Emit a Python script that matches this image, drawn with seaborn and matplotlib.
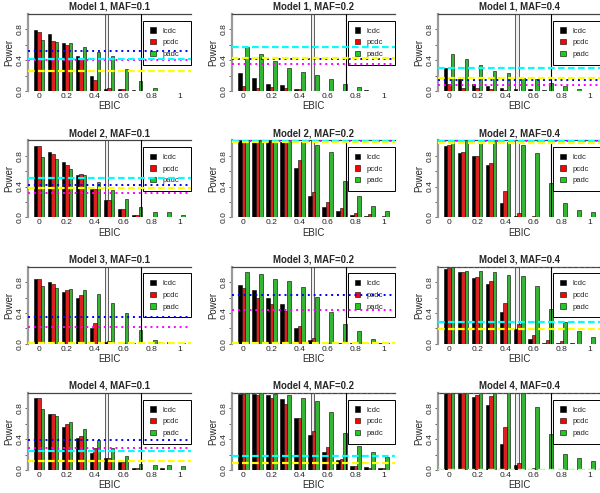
import numpy as np
import pandas as pd
import matplotlib
matplotlib.use("Agg")
import matplotlib.pyplot as plt
import seaborn as sns
from matplotlib.patches import Patch

sns.set_theme(style="white")
plt.rcParams['font.family'] = ['Liberation Sans', 'DejaVu Sans']

# ---- data ----
ebic = ["0", "0.1", "0.2", "0.3", "0.4", "0.5", "0.6", "0.7", "0.8", "0.9", "1"]
methods = ["lcdc", "pcdc", "padc"]
models = [1, 2, 3, 4]
mafs = ["0.1", "0.2", "0.4"]

# Model 1
m1_01_lcdc = [0.79, 0.74, 0.62, 0.45, 0.19, 0.03, 0.02, 0.01, 0.003, 0.002, 0.002]
m1_01_pcdc = [0.76, 0.65, 0.60, 0.42, 0.14, 0.04, 0.02, 0.005, 0.002, 0.002, 0.002]
m1_01_padc = [0.66, 0.64, 0.62, 0.57, 0.51, 0.45, 0.28, 0.13, 0.04, 0.003, 0.003]
m1_02_lcdc = [0.23, 0.165, 0.09, 0.08, 0.03, 0.003, 0.003, 0.003, 0.003, 0.01, 0.003]
m1_02_pcdc = [0.07, 0.045, 0.05, 0.035, 0.02, 0.002, 0.002, 0.002, 0.002, 0.005, 0.002]
m1_02_padc = [0.57, 0.48, 0.39, 0.30, 0.245, 0.21, 0.155, 0.09, 0.056, 0.005, 0.002]
m1_04_lcdc = [0.30, 0.17, 0.087, 0.065, 0.04, 0.03, 0.03, 0.015, 0.003, 0.005, 0.003]
m1_04_pcdc = [0.096, 0.045, 0.035, 0.02, 0.015, 0.005, 0.005, 0.002, 0.001, 0.002, 0.001]
m1_04_padc = [0.48, 0.41, 0.34, 0.265, 0.23, 0.175, 0.16, 0.105, 0.06, 0.02, 0.002]
# Model 2
m2_01_lcdc = [0.93, 0.85, 0.72, 0.55, 0.37, 0.22, 0.107, 0.034, 0.008, 0.005, 0.005]
m2_01_pcdc = [0.93, 0.82, 0.68, 0.56, 0.37, 0.22, 0.11, 0.034, 0.008, 0.008, 0.008]
m2_01_padc = [0.78, 0.76, 0.63, 0.55, 0.46, 0.35, 0.24, 0.13, 0.073, 0.064, 0.034]
m2_02_lcdc = [1.0, 1.0, 1.0, 0.98, 0.635, 0.274, 0.13, 0.083, 0.03, 0.02, 0.003]
m2_02_pcdc = [0.99, 0.99, 0.99, 0.98, 0.75, 0.33, 0.20, 0.12, 0.05, 0.04, 0.013]
m2_02_padc = [0.99, 0.99, 0.99, 1.0, 0.98, 0.94, 0.85, 0.47, 0.28, 0.15, 0.083]
m2_04_lcdc = [0.92, 0.835, 0.795, 0.675, 0.186, 0.017, 0.008, 0.005, 0.002, 0.001, 0.001]
m2_04_pcdc = [0.935, 0.85, 0.80, 0.71, 0.345, 0.05, 0.02, 0.005, 0.001, 0.001, 0.001]
m2_04_padc = [1.0, 1.0, 1.0, 0.995, 0.98, 0.94, 0.835, 0.45, 0.18, 0.10, 0.074]
# Model 3
m3_01_lcdc = [0.84, 0.795, 0.665, 0.595, 0.21, 0.02, 0.008, 0.003, 0.001, 0.001, 0.001]
m3_01_pcdc = [0.84, 0.78, 0.70, 0.635, 0.27, 0.03, 0.004, 0.002, 0.001, 0.001, 0.001]
m3_01_padc = [0.75, 0.72, 0.71, 0.70, 0.65, 0.525, 0.395, 0.18, 0.048, 0.02, 0.005]
m3_02_lcdc = [0.765, 0.70, 0.60, 0.51, 0.21, 0.048, 0.013, 0.005, 0.003, 0.001, 0.005]
m3_02_pcdc = [0.72, 0.60, 0.51, 0.43, 0.23, 0.074, 0.013, 0.003, 0.001, 0.001, 0.001]
m3_02_padc = [0.93, 0.90, 0.84, 0.82, 0.73, 0.61, 0.41, 0.26, 0.165, 0.06, 0.01]
m3_04_lcdc = [0.965, 0.925, 0.855, 0.775, 0.41, 0.19, 0.06, 0.008, 0.003, 0.003, 0.001]
m3_04_pcdc = [0.98, 0.925, 0.87, 0.81, 0.53, 0.25, 0.117, 0.045, 0.03, 0.001, 0.001]
m3_04_padc = [0.99, 0.945, 0.945, 0.925, 0.895, 0.875, 0.745, 0.456, 0.283, 0.16, 0.09]
# Model 4
m4_01_lcdc = [0.93, 0.726, 0.558, 0.42, 0.216, 0.15, 0.10, 0.03, 0.005, 0.02, 0.003]
m4_01_pcdc = [0.94, 0.726, 0.597, 0.445, 0.28, 0.16, 0.104, 0.02, 0.003, 0.005, 0.001]
m4_01_padc = [0.787, 0.705, 0.627, 0.528, 0.39, 0.28, 0.186, 0.078, 0.065, 0.06, 0.05]
m4_02_lcdc = [0.985, 0.985, 0.97, 0.92, 0.68, 0.45, 0.235, 0.128, 0.05, 0.038, 0.03]
m4_02_pcdc = [0.985, 0.97, 0.94, 0.86, 0.68, 0.51, 0.30, 0.137, 0.056, 0.03, 0.03]
m4_02_padc = [1.0, 1.0, 0.985, 0.975, 0.937, 0.894, 0.753, 0.483, 0.312, 0.235, 0.175]
m4_04_lcdc = [1.0, 1.0, 0.945, 0.85, 0.335, 0.065, 0.017, 0.005, 0.001, 0.001, 0.001]
m4_04_pcdc = [1.0, 1.0, 0.975, 0.955, 0.553, 0.09, 0.03, 0.003, 0.001, 0.001, 0.001]
m4_04_padc = [1.0, 1.0, 0.995, 1.0, 1.0, 1.0, 0.82, 0.474, 0.213, 0.157, 0.113]

# reference lines per panel, row-major (model 1 maf 0.1, 0.2, 0.4, model 2 ...)
ref_blue = [0.52, 0.42, 0.139, 0.415, 1.0, 1.0, 0.343, 0.635, 1.0, 0.39, 1.0, 1.0]
ref_magenta = [0.40, 0.357, 0.074, 0.317, 0.995, 0.99, 0.217, 0.443, 0.99, 0.29, 1.0, 1.0]
ref_cyan = [0.42, 0.574, 0.296, 0.51, 1.0, 0.995, 0.0, 0.0, 0.283, 0.25, 0.184, 0.0]
ref_yellow = [0.265, 0.426, 0.174, 0.376, 0.98, 0.965, 0.005, 0.005, 0.19, 0.117, 0.094, 0.005]

panels = [
    [m1_01_lcdc, m1_01_pcdc, m1_01_padc], [m1_02_lcdc, m1_02_pcdc, m1_02_padc], [m1_04_lcdc, m1_04_pcdc, m1_04_padc],
    [m2_01_lcdc, m2_01_pcdc, m2_01_padc], [m2_02_lcdc, m2_02_pcdc, m2_02_padc], [m2_04_lcdc, m2_04_pcdc, m2_04_padc],
    [m3_01_lcdc, m3_01_pcdc, m3_01_padc], [m3_02_lcdc, m3_02_pcdc, m3_02_padc], [m3_04_lcdc, m3_04_pcdc, m3_04_padc],
    [m4_01_lcdc, m4_01_pcdc, m4_01_padc], [m4_02_lcdc, m4_02_pcdc, m4_02_padc], [m4_04_lcdc, m4_04_pcdc, m4_04_padc],
]

bar_colors = ["black", "#FF0000", "#1ECC1E"]

# ---- layout (pixels) ----
W, H = 600, 493
col_left = [27.7, 232.0, 437.8]
row_top = [14.0, 140.3, 266.7, 393.0]
ax_w, ax_h = 162.9, 77.0
# vertical marker lines per column (category coordinates)
vlines = [(4.67, 4.95, 7.26), (4.82, 5.07, 7.29), (4.69, 4.97, 7.25)]

fig = plt.figure(figsize=(W / 100, H / 100), dpi=100)

for k, series in enumerate(panels):
    r, c = divmod(k, 3)
    ax = fig.add_axes([col_left[c] / W, 1 - (row_top[r] + ax_h) / H, ax_w / W, ax_h / H])

    df = pd.DataFrame({
        "EBIC": ebic * 3,
        "Power": series[0] + series[1] + series[2],
        "method": np.repeat(methods, len(ebic)),
    })
    sns.barplot(data=df, x="EBIC", y="Power", hue="method", order=ebic,
                hue_order=methods, palette=bar_colors, width=0.75,
                edgecolor="black", linewidth=0.4, errorbar=None,
                legend=False, ax=ax)

    a, b, v = vlines[c]
    ax.axvspan(a, b, facecolor="#eeeeee", edgecolor="#444444", lw=0.6, zorder=0.5)
    ax.axvline(v, color="black", lw=0.8, zorder=3)

    ax.set_xlim(-0.805, 10.805)
    ax.set_ylim(0, 1.0)
    ax.set_xticks(range(0, 11, 2))
    ax.set_xticklabels(["0", "0.2", "0.4", "0.6", "0.8", "1"])
    ax.set_yticks([0, 0.2, 0.4, 0.6, 0.8])
    ax.set_yticklabels(["0.0", "", "0.4", "", "0.8"])
    ax.tick_params(axis="x", length=0, pad=1.5, labelsize=6.1, colors="#222222")
    ax.tick_params(axis="y", length=2, width=0.5, pad=1, labelsize=6.1,
                   colors="#222222", left=True)
    for lab in ax.get_yticklabels():
        lab.set_rotation(90)
        lab.set_va("center")

    ax.set_xlabel("EBIC", fontsize=6.9, labelpad=1)
    ax.set_ylabel("Power", fontsize=6.9, labelpad=2)
    ax.set_title(f"Model {models[r]}, MAF={mafs[c]}", fontsize=6.9,
                 fontweight="bold", pad=3)

    for side in ["bottom", "right"]:
        ax.spines[side].set_visible(False)
    ax.spines["top"].set_color("#444444")
    ax.spines["top"].set_linewidth(0.9)
    ax.spines["left"].set_color("#9a9a9a")
    ax.spines["left"].set_linewidth(1.6)

    handles = [Patch(facecolor=col, edgecolor="black", lw=0.4) for col in bar_colors]
    leg = ax.legend(handles, methods, loc="upper left", bbox_to_anchor=(0.71, 0.33, 0.29, 0.585),
                    mode="expand", fontsize=5.5, handlelength=0.7, handleheight=0.7,
                    handletextpad=0.9, borderpad=0.9, labelspacing=0.55,
                    frameon=True, fancybox=False, framealpha=1, borderaxespad=0)
    leg.get_frame().set_edgecolor("black")
    leg.get_frame().set_linewidth(0.7)

    ax.axhline(ref_blue[k], color="#0000FF", ls=(0, (1, 2)), lw=1.4, zorder=6)
    ax.axhline(ref_magenta[k], color="#FF00FF", ls=(0, (1, 2)), lw=1.4, zorder=6)
    ax.axhline(ref_cyan[k], color="#00FFFF", ls=(0, (3, 1.5)), lw=1.6, zorder=6)
    ax.axhline(ref_yellow[k], color="#FFFF00", ls=(0, (3, 1.5)), lw=1.6, zorder=6)

fig.savefig("out.png", dpi=100)
